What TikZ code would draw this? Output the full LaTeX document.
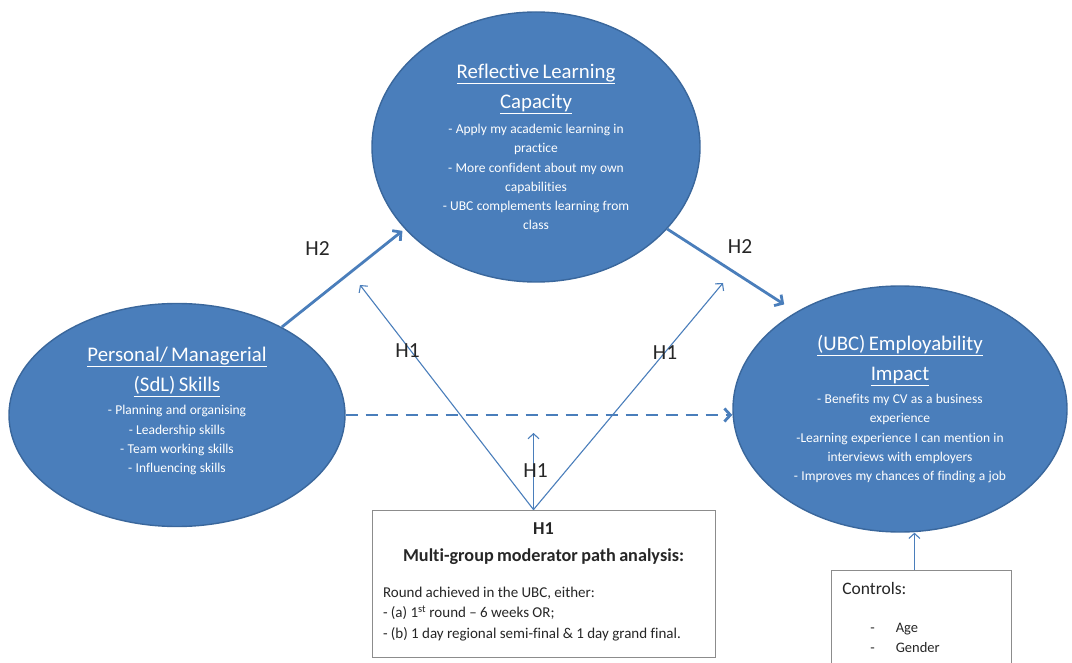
\documentclass[tikz,border=0pt]{standalone}
\usepackage{fontspec}
\setmainfont{Carlito}[Ligatures={TeX,NoCommon}]
\usetikzlibrary{shapes.geometric,arrows.meta,positioning}
\definecolor{cblue}{HTML}{4A7EBB}
\definecolor{cedge}{HTML}{3A679C}
\definecolor{cgray}{HTML}{8C8C8C}
\definecolor{ctext}{HTML}{262626}
\tikzset{
  construct/.style={ellipse,draw=cedge,line width=1.4pt,fill=cblue,text=white,
                    inner sep=0pt,align=center},
  infobox/.style={draw=cgray,line width=0.8pt,fill=white,text=ctext,align=left},
  hlabel/.style={text=ctext,font=\fontsize{21.5}{22}\selectfont},
  mainpath/.style={cblue,line width=2.8pt,-{Straight Barb[length=6pt,width=13pt]}},
  modpath/.style={cblue,line width=1.1pt,-{Straight Barb[length=5pt,width=11pt]}},
}
\newcommand{\ctitle}{\fontsize{20.8}{30}\selectfont}
\newcommand{\cbody}{\fontsize{13.5}{19.2}\selectfont}

\begin{document}
\begin{tikzpicture}[x=1pt,y=-1pt]
\clip (0,0) rectangle (1072,663);
% the three constructs
\node[construct,minimum width=328pt,minimum height=270pt,text width=210pt] (rlc) at (536,147)
  {{\ctitle\underline{Reflective Learning}\\\underline{Capacity}\par}\vspace{6pt}
   {\cbody - Apply my academic learning in\\practice\\- More confident about my own\\capabilities\\- UBC complements learning from\\class\par}};
\node[construct,minimum width=336pt,minimum height=223pt,text width=220pt] (sdl) at (177,415)
  {{\ctitle\underline{Personal/ Managerial}\\\underline{(SdL) Skills}\par}\vspace{4pt}
   {\cbody - Planning and organising\\- Leadership skills\\- Team working skills\\- Influencing skills\par}\vspace*{8pt}};
\node[construct,minimum width=334pt,minimum height=246pt,text width=225pt] (ubc) at (900,409)
  {{\ctitle\underline{(UBC) Employability}\\\underline{Impact}\par}\vspace{4pt}
   {\cbody - Benefits my CV as a business\\experience\\-Learning experience I can mention in\\interviews with employers\\- Improves my chances of finding a job\par}};

% boxes
\node[infobox,minimum width=343pt,minimum height=147pt,text width=321pt,inner xsep=11pt] (h1box) at (543.5,583.5)
  {{\centering\bfseries\fontsize{18.2}{27}\selectfont H1\\Multi-group moderator path analysis:\par}\vspace{15pt}
   {\fontsize{15}{20.5}\selectfont Round achieved in the UBC, either:\\- (a) 1\textsuperscript{st} round -- 6 weeks OR;\\- (b) 1 day regional semi-final \& 1 day grand final.\par}\vspace*{3pt}};
\node[infobox,anchor=north west,text width=158pt,inner xsep=11pt,inner ysep=11.5pt] (ctrl) at (831,570)
  {{\fontsize{17.5}{21}\selectfont Controls:\par}\vspace{18pt}
   {\fontsize{14.5}{20}\selectfont\hspace*{28pt}-\hspace*{21pt}Age\\\hspace*{28pt}-\hspace*{21pt}Gender\par}\vspace*{30pt}};

% H2 paths
\draw[mainpath,shorten >=3pt] (sdl.40) -- (rlc.212);
\draw[mainpath,shorten >=14pt] (rlc.-32) -- (ubc.137);
\draw[mainpath,dash pattern=on 12pt off 8pt] (sdl.east) -- (sdl.east -| ubc.west);

% H1 moderator paths
\coordinate (h1root) at ([xshift=-10pt]h1box.north);
\coordinate (tipl) at (360,285);
\coordinate (tipr) at (723,283);
\coordinate (tipu) at (533.5,433);
\draw[modpath] (h1root) -- (tipl);
\draw[modpath] (h1root) -- (tipr);
\draw[modpath] (h1root) -- (tipu);
\draw[modpath] ([xshift=-7pt]ctrl.north) -- ([xshift=-7pt]ctrl.north |- ubc.south);

% labels
\node[hlabel] (h2l) at (317.5,249) {H2};
\node[hlabel] (h2r) at (740,247) {H2};
\node[hlabel] (h1l) at (407.5,350.5) {H1};
\node[hlabel] (h1r) at (665,352.5) {H1};
\node[hlabel] (h1u) at (535.5,470.5) {H1};
\end{tikzpicture}
\end{document}
